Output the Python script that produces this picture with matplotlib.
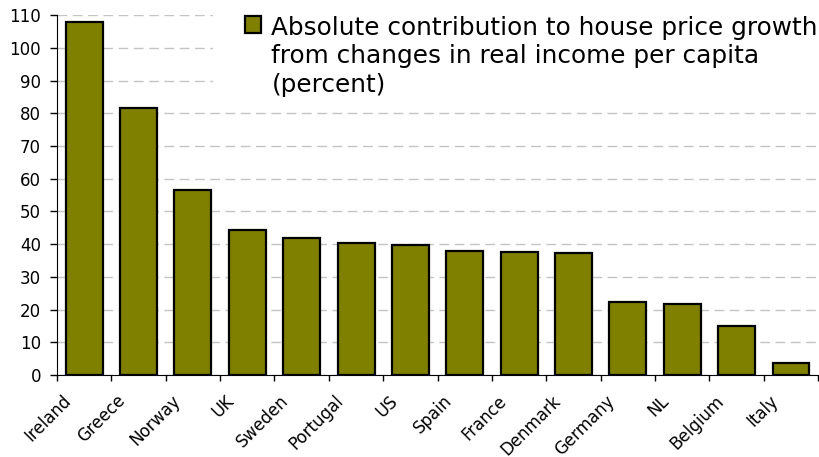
import matplotlib.pyplot as plt
import matplotlib.transforms as mtransforms
from matplotlib.patches import Rectangle
import numpy as np

plt.rcParams['font.family'] = ['DejaVu Sans']

countries = ['Ireland', 'Greece', 'Norway', 'UK', 'Sweden', 'Portugal', 'US',
             'Spain', 'France', 'Denmark', 'Germany', 'NL', 'Belgium', 'Italy']
contribution = [107.8, 81.5, 56.6, 44.4, 41.9, 40.4, 39.6,
                37.8, 37.5, 37.2, 22.4, 21.8, 14.9, 3.8]
series_label = ('Absolute contribution to house price growth\n'
                'from changes in real income per capita\n(percent)')

fig = plt.figure(figsize=(8.19, 4.57), dpi=100)
ax = fig.add_axes([0.0696, 0.1794, 0.9294, 0.7876])

x = np.arange(len(countries))
ax.bar(x, contribution, width=0.68, color='#808000', edgecolor='black',
       linewidth=1.6, label=series_label, zorder=3)

ax.set_xlim(-0.5, len(countries) - 0.5)
ax.set_ylim(0, 110)
ax.set_yticks(np.arange(0, 111, 10))
ax.tick_params(axis='y', labelsize=12, length=5, width=1, pad=6.5,
               direction='out')

# ticks sit between categories, labels at category centres
ax.set_xticks(np.arange(-0.5, len(countries), 1.0))
ax.set_xticklabels([])
ax.set_xticks(x, minor=True)
ax.set_xticklabels(countries, minor=True, rotation=45, ha='right',
                   rotation_mode='anchor', fontsize=12)
ax.tick_params(axis='x', which='major', length=4, width=1)
ax.tick_params(axis='x', which='minor', length=0, pad=12)
shift = mtransforms.ScaledTranslation(-22 / 100, 0, fig.dpi_scale_trans)
for lab in ax.get_xticklabels(minor=True):
    lab.set_transform(lab.get_transform() + shift)

ax.yaxis.grid(True, linestyle=(0, (7, 4)), color='#c4c4c4', linewidth=1, zorder=0)
for side in ['top', 'right']:
    ax.spines[side].set_visible(False)

# white area behind the legend hides the gridlines there
ax.add_patch(Rectangle((213 / 819, 1 - 100 / 457), 1, 100 / 457,
                       transform=fig.transFigure, facecolor='white',
                       edgecolor='none', zorder=2, clip_on=False))

leg = ax.legend(loc='upper left', bbox_to_anchor=(245 / 819, 1 - 16 / 457),
                bbox_transform=fig.transFigure, frameon=False,
                fontsize=17.8, handlelength=0.65, handleheight=0.65,
                handletextpad=0.42, borderpad=0, borderaxespad=0)
leg.get_texts()[0].set_linespacing(1.23)
for col in leg._legend_handle_box.get_children():
    for row in col.get_children():
        row.align = 'top'
for patch in leg.get_patches():
    patch.set_linewidth(1.6)

fig.savefig('out.png', dpi=100)
